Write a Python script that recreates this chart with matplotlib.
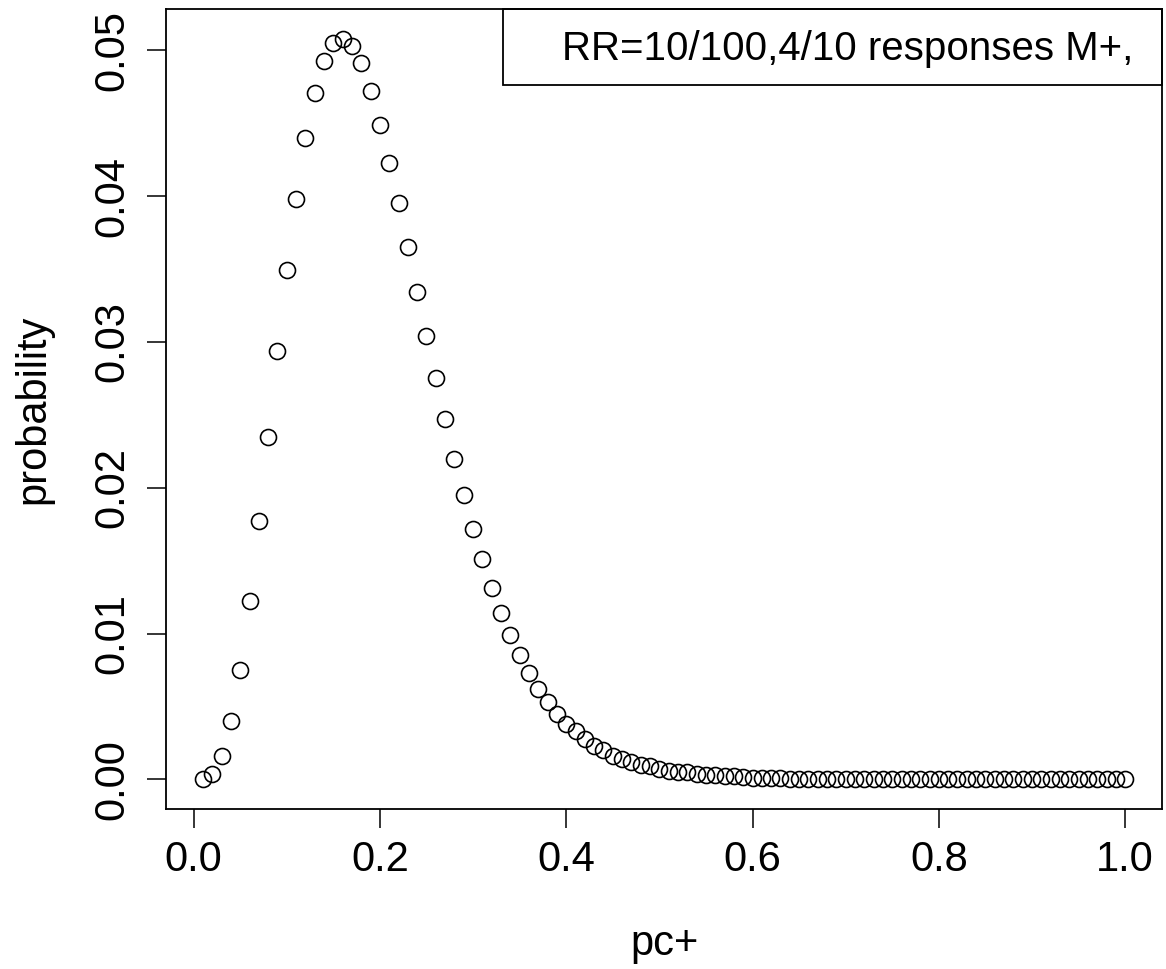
import numpy as np
import matplotlib.pyplot as plt
from matplotlib.patches import Rectangle

plt.rcParams['font.family'] = ['Liberation Sans', 'DejaVu Sans']

# pc+ values 0.01 .. 1.00
pc = [round(0.01 * i, 2) for i in range(1, 101)]

# probabilities
prob = [
    0.0000, 0.0004, 0.0016, 0.0040, 0.0075, 0.0122, 0.0177, 0.0235, 0.0294, 0.0349,
    0.0398, 0.0440, 0.0471, 0.0493, 0.0505, 0.0508, 0.0503, 0.0491, 0.0472, 0.0449,
    0.0423, 0.0395, 0.0365, 0.0334, 0.0304, 0.0275, 0.0247, 0.0220, 0.0195, 0.0172,
    0.0151, 0.0131, 0.0114, 0.0099, 0.0085, 0.0073, 0.0062, 0.0053, 0.0045, 0.0038,
    0.0033, 0.0028, 0.0023, 0.0020, 0.0016, 0.0014, 0.0012, 0.0010, 0.0009, 0.0007,
    0.0006, 0.0005, 0.0005, 0.0004, 0.0003, 0.0003, 0.0002, 0.0002, 0.00015, 0.0001,
    0.0001, 0.00008, 0.00007, 0.00006, 0.00005, 0.00004, 0.00003, 0.00003, 0.00002, 0.00002,
    0.00001, 0.00001, 0.00001, 0.0, 0.0, 0.0, 0.0, 0.0, 0.0, 0.0,
    0.0, 0.0, 0.0, 0.0, 0.0, 0.0, 0.0, 0.0, 0.0, 0.0,
    0.0, 0.0, 0.0, 0.0, 0.0, 0.0, 0.0, 0.0, 0.0, 0.0,
]

xticks = [0.0, 0.2, 0.4, 0.6, 0.8, 1.0]
yticks = [0.00, 0.01, 0.02, 0.03, 0.04, 0.05]
legend_text = 'RR=10/100,4/10 responses M+,'

fig = plt.figure(figsize=(11.66, 9.69), dpi=100)
ax = fig.add_axes([0.1424, 0.1651, 0.8542, 0.8256])

ax.plot(pc, prob, linestyle='none', marker='o', markersize=11.5,
        markerfacecolor='none', markeredgecolor='black', markeredgewidth=1.2)

# R style limits (4% extension)
xr = max(pc) - min(pc)
yr = max(prob) - min(prob)
ax.set_xlim(min(pc) - 0.04 * xr, max(pc) + 0.04 * xr)
ax.set_ylim(min(prob) - 0.04 * yr, max(prob) + 0.04 * yr)

ax.set_xticks(xticks)
ax.set_xticklabels([f'{v:.1f}' for v in xticks])
ax.set_yticks(yticks)
ax.set_yticklabels([f'{v:.2f}' for v in yticks], rotation=90, va='center')
ax.tick_params(axis='both', length=14, width=1.1, labelsize=30, direction='out')
ax.tick_params(axis='x', pad=8)
ax.tick_params(axis='y', pad=10)

for s in ax.spines.values():
    s.set_linewidth(1.3)

ax.set_xlabel('pc+', fontsize=30, labelpad=32)
ax.set_ylabel('probability', fontsize=30, labelpad=28)

# legend box in top right corner
ax.add_patch(Rectangle((0.338, 0.905), 0.662, 0.095, transform=ax.transAxes,
                       fill=False, edgecolor='black', linewidth=1.3, clip_on=False))
ax.text(0.398, 0.950, legend_text, transform=ax.transAxes, fontsize=29,
        ha='left', va='center')

fig.savefig('out.png', dpi=100)
